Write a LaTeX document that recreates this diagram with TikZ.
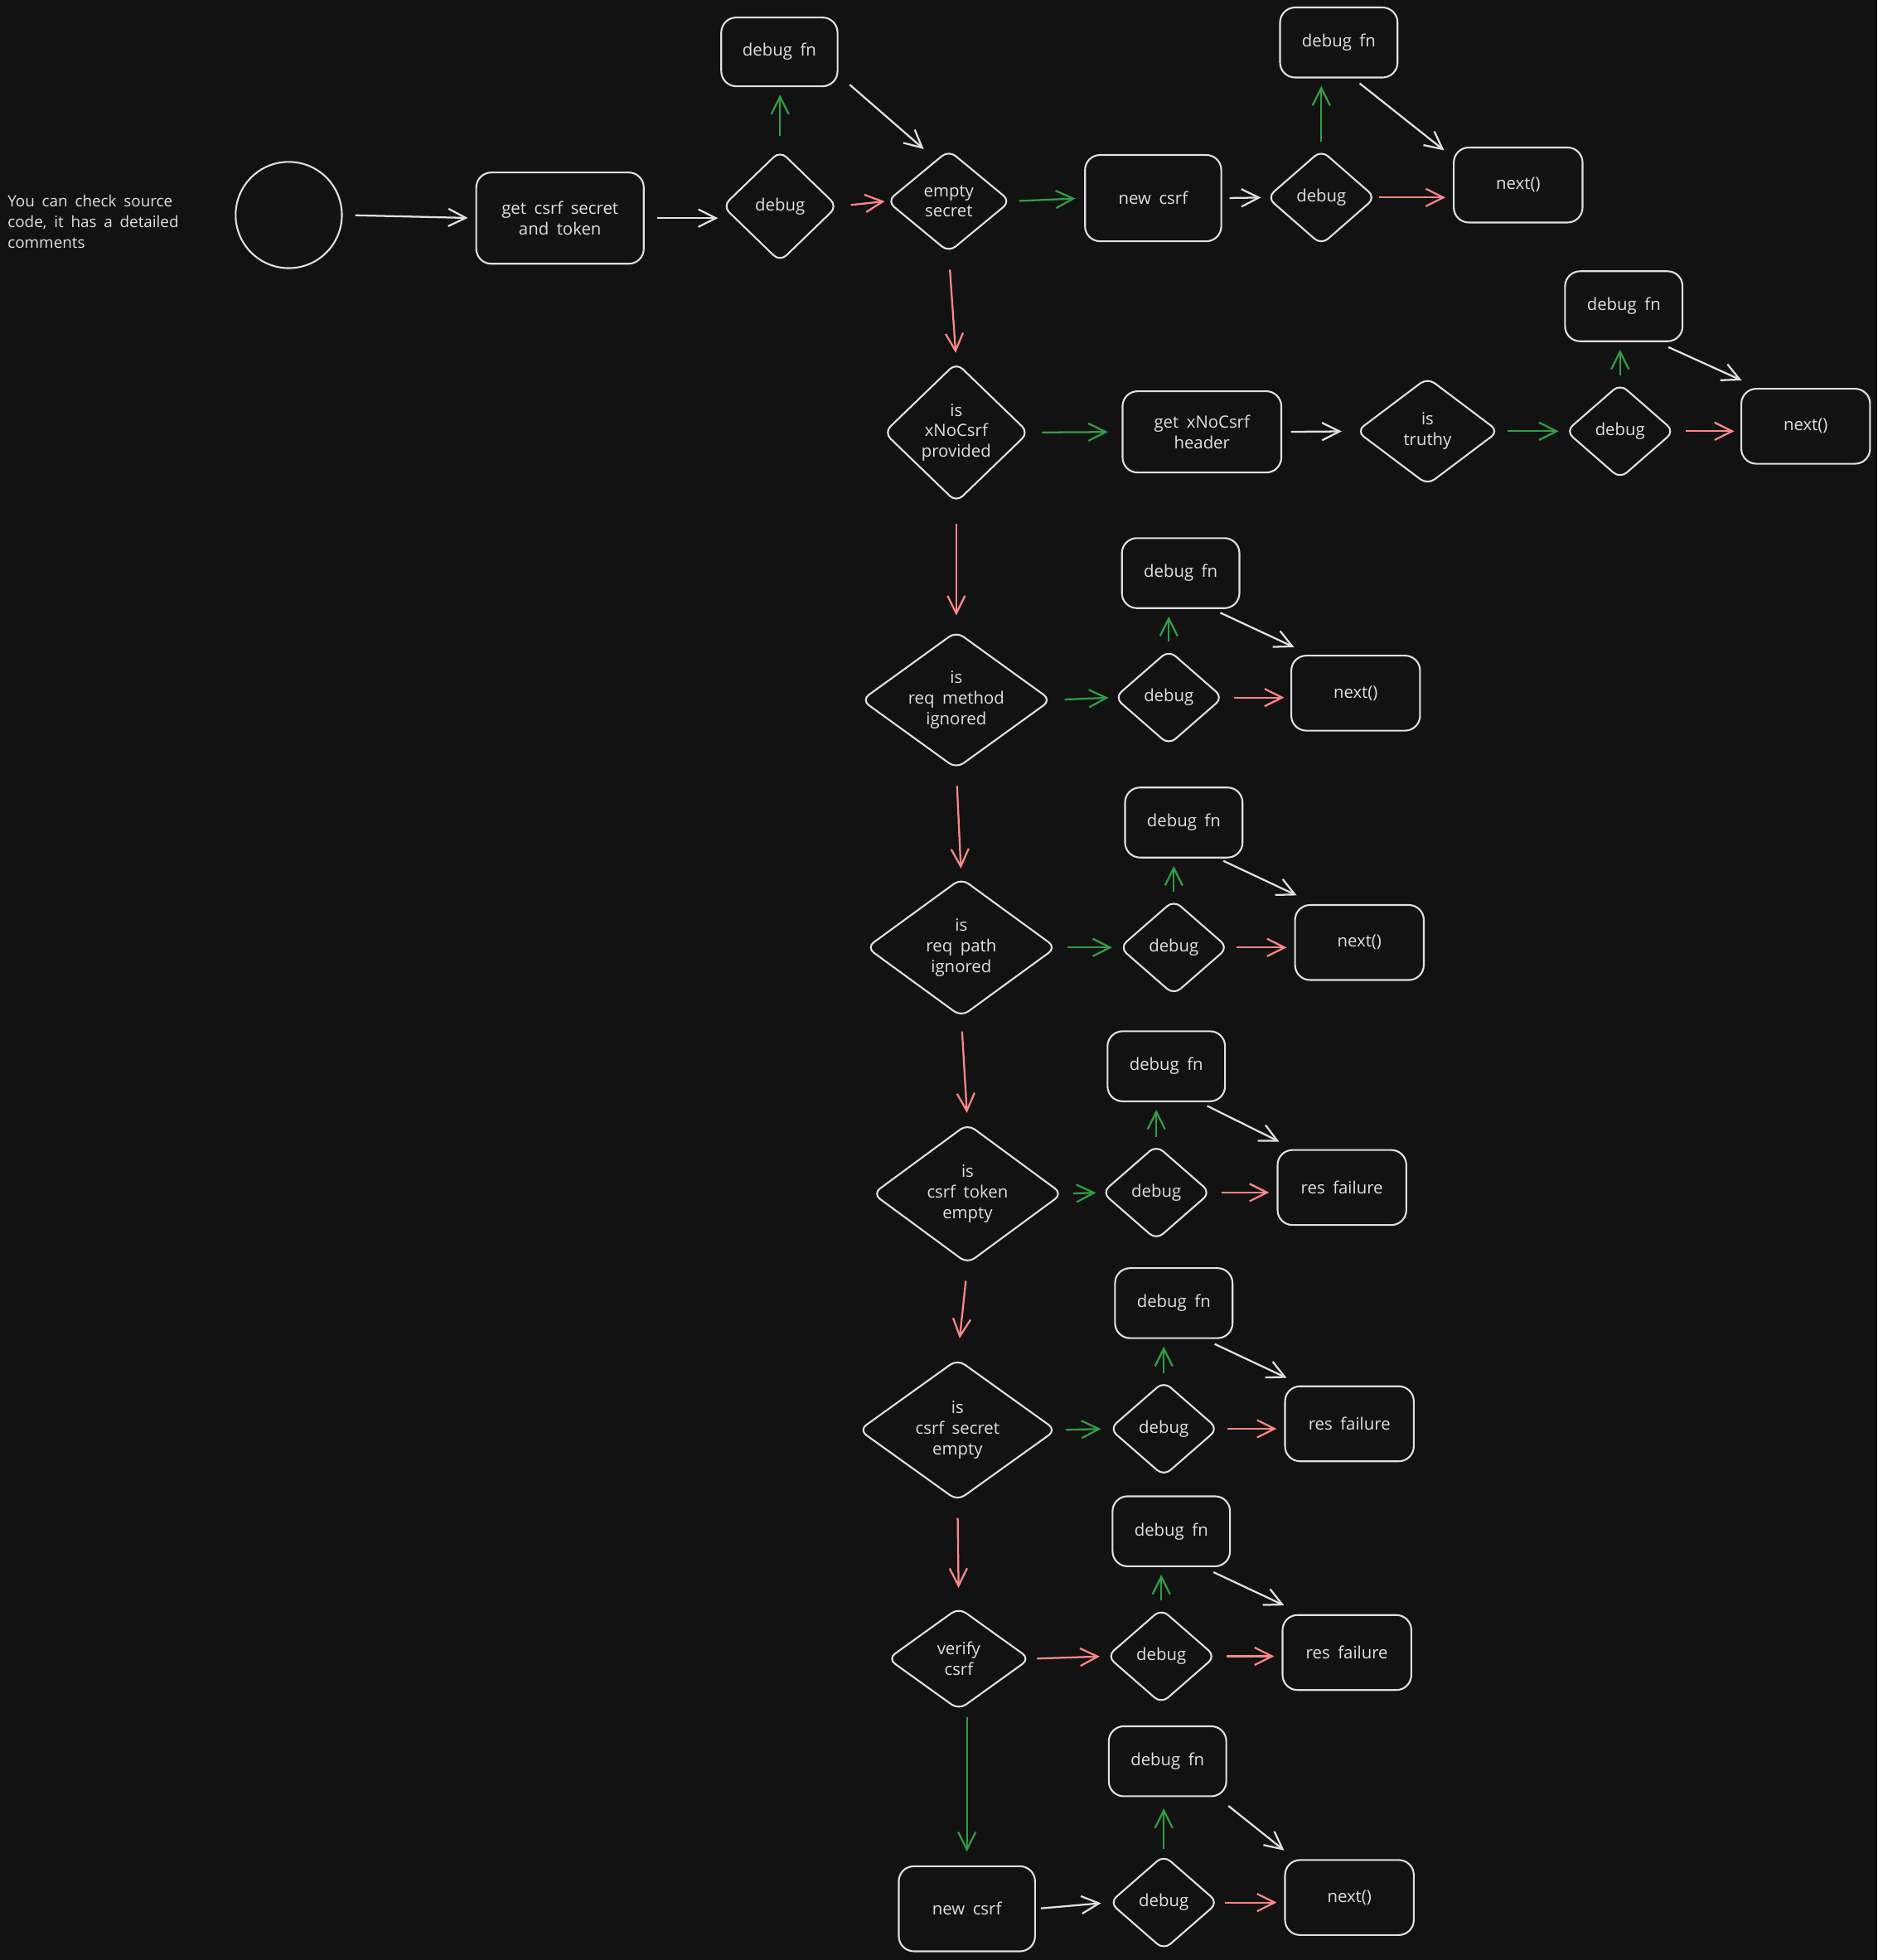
\documentclass[tikz,border=0pt]{standalone}
\usepackage{fontspec}
\setmainfont{Open Sans}[WordSpace=1.8]
\usetikzlibrary{shapes.geometric,arrows.meta}
\definecolor{bg}{HTML}{121212}
\definecolor{fg}{HTML}{E0E0E0}
\definecolor{gr}{HTML}{2F9E44}
\definecolor{rd}{HTML}{FF8787}
\begin{document}
\begin{tikzpicture}[x=1pt,y=-1pt,
  every node/.style={font=\fontsize{13.5}{16.5}\selectfont, text=fg},
  box/.style={draw=fg, line width=1.4pt, rounded corners=12pt, fill=bg, align=center, inner sep=0pt},
  dia/.style={draw=fg, line width=1.4pt, diamond, rounded corners=7pt, fill=bg, align=center, inner sep=0pt, aspect=1},
  dbgdia/.style={dia, minimum width=87pt, minimum height=76pt},
  fnbox/.style={box, minimum width=94pt, minimum height=56pt},
  endbox/.style={box, minimum width=103pt, minimum height=60pt},
  arr/.style={line width=1.5pt, -{Straight Barb[length=14pt,width=14pt]}, shorten <=8pt, shorten >=5pt},
  arW/.style={arr, draw=fg},
  arG/.style={arr, draw=gr},
  arR/.style={arr, draw=rd},
  upG/.style={arG, shorten <=6pt, shorten >=6pt},
  downR/.style={arR, shorten <=12pt, shorten >=9pt},
  diagW/.style={arW, shorten <=0pt, shorten >=0pt}
]
\fill[bg] (0,0) rectangle (1502,1568);
\useasboundingbox (0,0) rectangle (1502,1568);

% left note
\node[anchor=north west, align=left, inner sep=0pt, font=\fontsize{12.5}{16.5}\selectfont] (note) at (6,156)
  {You can check source\\code, it has a detailed\\comments};

% start circle
\node[draw=fg, line width=1.4pt, circle, minimum size=85pt, inner sep=0pt] (start) at (231,172) {};

% row 1
\node[box, minimum width=134pt, minimum height=73pt] (get) at (448,174.5) {get csrf secret\\and token};
\node[dia, minimum width=92pt, minimum height=89pt] (dbg1) at (624,165) {debug};
\node[fnbox, minimum width=93pt, minimum height=55pt] (dfn1) at (623.5,41.5) {debug fn};
\node[dia, minimum width=99pt, minimum height=82pt] (empty) at (759,161) {empty\\secret};
\node[box, minimum width=109pt, minimum height=69pt] (new1) at (922.5,158.5) {new csrf};
\node[dbgdia] (dbg2) at (1057,158) {debug};
\node[fnbox] (dfn2) at (1071,34) {debug fn};
\node[endbox] (next1) at (1214.5,148) {next()};

% row 2
\node[dia, minimum width=116pt, minimum height=112pt] (xno) at (765,346) {is\\xNoCsrf\\provided};
\node[box, minimum width=127pt, minimum height=65pt] (xhdr) at (961.5,345.5) {get xNoCsrf\\header};
\node[dia, minimum width=114pt, minimum height=86pt] (truthy) at (1142,345) {is\\truthy};
\node[dbgdia] (dbg3) at (1296,345) {debug};
\node[fnbox] (dfn3) at (1299,245) {debug fn};
\node[endbox] (next2) at (1444.5,341) {next()};

% row 3
\node[dia, minimum width=152pt, minimum height=110pt,
      label={[align=center, inner sep=0pt]center:{is\\req method\\ignored}}] (method) at (765,560) {};
\node[dbgdia] (dbg4) at (935,558) {debug};
\node[fnbox] (dfn4) at (944.5,458.5) {debug fn};
\node[endbox] (next3) at (1084.5,554.5) {next()};

% row 4
\node[dia, minimum width=152pt, minimum height=111pt] (path) at (769,758) {is\\req path\\ignored};
\node[dbgdia] (dbg5) at (939,758) {debug};
\node[fnbox] (dfn5) at (947,658) {debug fn};
\node[endbox] (next4) at (1087.5,754) {next()};

% row 5
\node[dia, minimum width=152pt, minimum height=112pt] (token) at (774,955) {is\\csrf token\\empty};
\node[dbgdia] (dbg6) at (925,954) {debug};
\node[fnbox] (dfn6) at (933,853) {debug fn};
\node[endbox] (res1) at (1073.5,950) {res failure};

% row 6
\node[dia, minimum width=158pt, minimum height=110pt] (secret) at (766,1144) {is\\csrf secret\\empty};
\node[dbgdia] (dbg7) at (931,1143) {debug};
\node[fnbox] (dfn7) at (939,1042.5) {debug fn};
\node[endbox] (res2) at (1079.5,1139) {res failure};

% row 7
\node[dia, minimum width=114pt, minimum height=82pt] (verify) at (767,1327) {verify\\csrf};
\node[dbgdia] (dbg8) at (929,1325) {debug};
\node[fnbox] (dfn8) at (937,1225) {debug fn};
\node[endbox] (res3) at (1077.5,1322) {res failure};

% row 8
\node[box, minimum width=109pt, minimum height=68pt] (new2) at (773.5,1527) {new csrf};
\node[dbgdia] (dbg9) at (931,1522) {debug};
\node[fnbox] (dfn9) at (934,1409) {debug fn};
\node[endbox] (next5) at (1079.5,1518) {next()};

% ---- connectors ----
\draw[arW, shorten <=10pt, shorten >=6pt] (start.east) -- (get.west);
\draw[arW, shorten <=10pt, shorten >=3pt] (get.west -| get.east) -- (get.west -| dbg1.west);
\draw[upG, shorten <=11pt] (dbg1.north) -- (dbg1.north |- dfn1.south);
\draw[diagW] ([xshift=9pt,yshift=2pt]dfn1.south east) -- ([xshift=-20pt]empty.north);
\draw[arR, shorten <=10pt, shorten >=1pt] (dbg1.east) -- (empty.west);
\draw[arG, shorten <=6pt, shorten >=7pt] (empty.east) -- (new1.west);
\draw[arW, shorten <=6pt, shorten >=4pt] (new1.east) -- (dbg2.west);
\draw[upG] (dbg2.north) -- (dbg2.north |- dfn2.south);
\draw[diagW] ([xshift=-31pt,yshift=-4pt]dfn2.south east) -- ([xshift=-7pt,yshift=-3pt]next1.north west);
\draw[arR, shorten <=2pt, shorten >=6pt] (dbg2.east) -- (dbg2.east -| next1.west);

\draw[downR, shorten <=13pt, shorten >=7pt] (empty.south) -- (xno.north);
\draw[arG, shorten <=10pt, shorten >=11pt] (xno.east) -- (xhdr.west);
\draw[arW, shorten <=7pt, shorten >=11pt] (xhdr.east) -- (truthy.west);
\draw[arG, shorten <=6pt, shorten >=5pt] (truthy.east) -- (dbg3.west);
\draw[upG] (dbg3.north) -- (dbg3.north |- dfn3.south);
\draw[diagW] ([xshift=-12pt,yshift=-4pt]dfn3.south east) -- ([xshift=1pt,yshift=6pt]next2.north west);
\draw[arR] (dbg3.east) -- (dbg3.east -| next2.west);

\draw[downR, shorten <=16pt, shorten >=12pt] (xno.south) -- (method.north);
\draw[arG, shorten <=10pt, shorten >=4pt] (method.east) -- (dbg4.west);
\draw[upG] (dbg4.north) -- (dbg4.north |- dfn4.south);
\draw[diagW] ([xshift=-16pt,yshift=-3pt]dfn4.south east) -- ([xshift=3pt,yshift=6pt]next3.north west);
\draw[arR] (dbg4.east) -- (dbg4.east -| next3.west);

\draw[downR, shorten <=13pt, shorten >=7pt] (method.south) -- (path.north);
\draw[arG] (path.east) -- (dbg5.west);
\draw[upG] (dbg5.north) -- (dbg5.north |- dfn5.south);
\draw[diagW] ([xshift=-16pt,yshift=-2pt]dfn5.south east) -- ([xshift=2pt,yshift=7pt]next4.north west);
\draw[arR, shorten <=6pt, shorten >=6pt] (dbg5.east) -- (dbg5.east -| next4.west);

\draw[downR, shorten <=11pt, shorten >=8pt] (path.south) -- (token.north);
\draw[arG, shorten <=8pt, shorten >=4pt] (token.east) -- (dbg6.west);
\draw[upG] (dbg6.north) -- (dbg6.north |- dfn6.south);
\draw[diagW] ([xshift=-15pt,yshift=-3pt]dfn6.south east) -- ([xshift=2pt,yshift=6pt]res1.north west);
\draw[arR, shorten >=6pt] (dbg6.east) -- (dbg6.east -| res1.west);

\draw[downR, shorten <=13pt, shorten >=16pt] (token.south) -- (secret.north);
\draw[arG, shorten <=7pt, shorten >=6pt] (secret.east) -- (dbg7.west);
\draw[upG] (dbg7.north) -- (dbg7.north |- dfn7.south);
\draw[diagW] ([xshift=-15pt,yshift=-4pt]dfn7.south east) -- ([xshift=2pt,yshift=6pt]res2.north west);
\draw[arR, shorten <=7pt, shorten >=6pt] (dbg7.east) -- (dbg7.east -| res2.west);

\draw[downR, shorten <=13pt, shorten >=15pt] (secret.south) -- (verify.south |- secret.south |- verify.north);
\draw[arR, shorten <=5pt, shorten >=5pt] (verify.east) -- (dbg8.west);
\draw[upG] (dbg8.north) -- (dbg8.north |- dfn8.south);
\draw[diagW] ([xshift=-14pt,yshift=-4pt]dfn8.south east) -- ([xshift=2pt,yshift=7pt]res3.north west);
\draw[arR, shorten >=6pt] (dbg8.east) -- (dbg8.east -| res3.west);

\draw[arG, shorten <=5pt, shorten >=11pt] (verify.south -| new2.north) -- (new2.north);
\draw[arW, shorten <=4pt, shorten >=6pt] (new2.east) -- (dbg9.west);
\draw[upG, shorten <=4pt, shorten >=9pt] (dbg9.north) -- (dbg9.north |- dfn9.south);
\draw[diagW] ([xshift=1pt,yshift=-7pt]dfn9.south east) -- ([xshift=0pt,yshift=7pt]next5.north west);
\draw[arR, shorten <=5pt, shorten >=6pt] (dbg9.east) -- (dbg9.east -| next5.west);
\end{tikzpicture}
\end{document}
